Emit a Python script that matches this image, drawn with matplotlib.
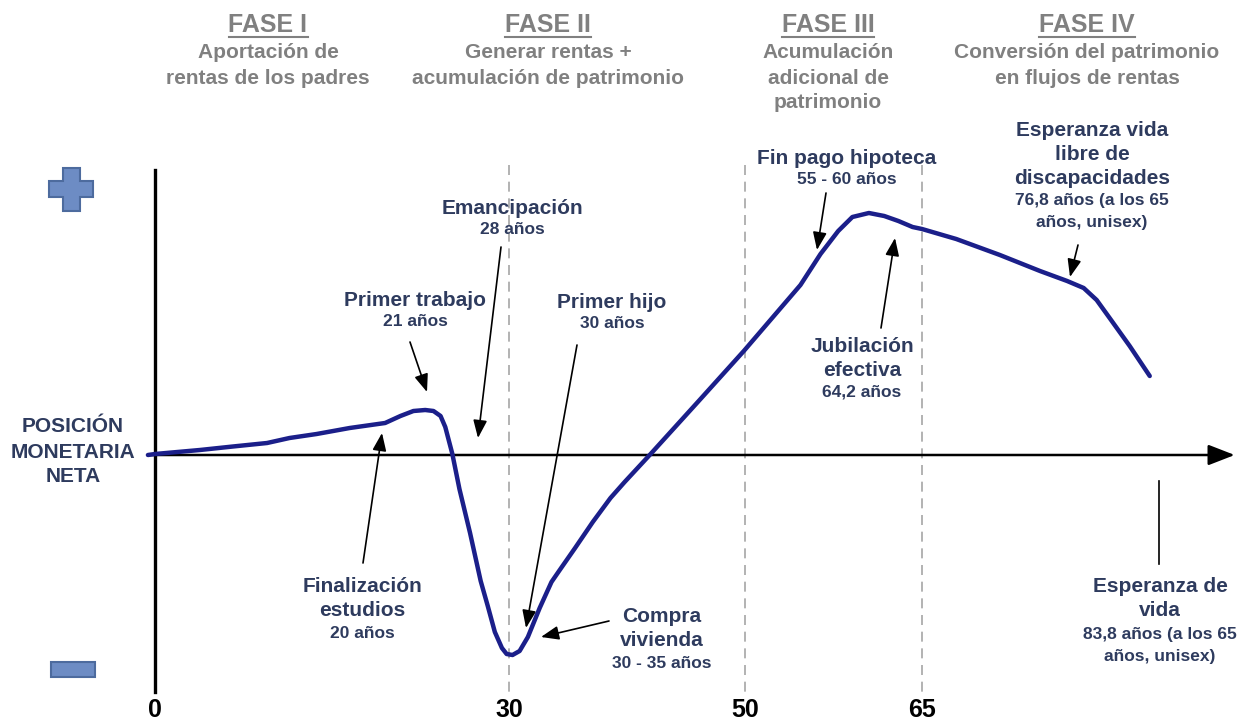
import matplotlib.pyplot as plt
from matplotlib.patches import Rectangle, Polygon

plt.rcParams['font.family'] = ['Liberation Sans', 'DejaVu Sans']
plt.rcParams['font.weight'] = 'bold'

# life-cycle curve: age (years) vs net monetary position (arbitrary units)
ages = [-0.6, 0, 3.8, 6.6, 9.5, 11.4, 13.7, 16.5, 19.5, 20.8, 21.9, 22.9, 23.6, 24.2,
        24.6, 25.2, 25.8, 26.7, 27.6, 28.2, 28.8, 29.4, 29.8, 30.3, 30.9, 31.6, 32.6,
        33.6, 34.3, 35.6, 37.1, 38.6, 39.8, 42.0, 46.0, 49.9, 52.3, 54.7, 56.4, 57.9,
        59.1, 60.5, 61.8, 63.0, 64.2, 65.0, 67.9, 71.6, 75.0, 77.3, 78.7, 79.8, 80.9,
        82.6, 84.3]
position = [0.0, 0.01, 0.05, 0.085, 0.12, 0.17, 0.21, 0.27, 0.32, 0.39, 0.44, 0.45, 0.44, 0.39,
            0.28, 0.01, -0.34, -0.78, -1.26, -1.51, -1.77, -1.93, -1.99, -2.00, -1.96, -1.82, -1.53,
            -1.27, -1.15, -0.93, -0.67, -0.43, -0.27, 0.01, 0.53, 1.04, 1.37, 1.70, 2.01, 2.24,
            2.38, 2.42, 2.39, 2.34, 2.28, 2.26, 2.16, 2.00, 1.84, 1.74, 1.67, 1.55, 1.37,
            1.09, 0.79]

tick_ages = [0, 30, 50, 65]
phase_bounds = [30, 50, 65]

phase_titles = ["FASE I", "FASE II", "FASE III", "FASE IV"]
phase_texts = [["Aportación de", "rentas de los padres"],
               ["Generar rentas +", "acumulación de patrimonio"],
               ["Acumulación", "adicional de", "patrimonio"],
               ["Conversión del patrimonio", "en flujos de rentas"]]

NAVY = '#1b1f8a'
TXT = '#2e3b5e'
GRAY = '#808080'

fig = plt.figure(figsize=(12.42, 7.2), dpi=100)

# data axes (age on x, position on y), laid out to fill the figure
ax = fig.add_axes([0, 0, 1, 1])
ax.set_xlim(-155 / 11.8, (1242 - 155) / 11.8)
ax.set_ylim(-2.65, 4.55)
ax.axis('off')

for a in phase_bounds:
    ax.plot([a, a], [2.9, -2.37], color='#a6a6a6', lw=1.2, ls=(0, (6, 4)), zorder=1)

ax.plot([0, 0], [2.85, -2.37], color='black', lw=2.4, zorder=2)
ax.annotate('', xy=(91.5, 0), xytext=(-0.6, 0),
            arrowprops=dict(arrowstyle='-|>,head_length=0.9,head_width=0.35',
                            mutation_scale=18, lw=1.8, color='black',
                            shrinkA=0, shrinkB=0), zorder=2)

ax.plot(ages, position, color=NAVY, lw=3.2, solid_joinstyle='round',
        solid_capstyle='round', zorder=3)

for a in tick_ages:
    ax.text(a, -2.55, str(a), ha='center', va='center', fontsize=18, color='black')

# overlay in pixel coordinates for labels and decorations
ov = fig.add_axes([0, 0, 1, 1], facecolor='none')
ov.set_xlim(0, 1242)
ov.set_ylim(720, 0)
ov.axis('off')

# plus / minus signs
plus = [(63, 168), (80, 168), (80, 181), (93, 181), (93, 197), (80, 197), (80, 211),
        (63, 211), (63, 197), (49, 197), (49, 181), (63, 181)]
ov.add_patch(Polygon(plus, closed=True, fc='#6d8cc4', ec='#4d6b9e', lw=1.5))
ov.add_patch(Rectangle((51, 662), 44, 15, fc='#6d8cc4', ec='#4d6b9e', lw=1.5))

for i, s in enumerate(["POSICIÓN", "MONETARIA", "NETA"]):
    ov.text(73, 427 + 25 * i, s, ha='center', va='center', fontsize=15, color=TXT)

# phase headers
phase_x = [268, 548, 828, 1087]
fig.canvas.draw()
renderer = fig.canvas.get_renderer()
for x, title, lines in zip(phase_x, phase_titles, phase_texts):
    t = ov.text(x, 25, title, ha='center', va='center', fontsize=18, color=GRAY)
    bb = t.get_window_extent(renderer=renderer)
    ov.plot([bb.x0, bb.x1], [37, 37], color=GRAY, lw=1.5)
    for j, s in enumerate(lines):
        ov.text(x, 53 + 25 * j, s, ha='center', va='center', fontsize=15, color=GRAY)

# event annotations: (x, first line y, lines, tail, head)
events = [
    (415, 300, [("Primer trabajo", 15), ("21 años", 12.5)], (410, 342), (427, 392)),
    (362, 587, [("Finalización", 15), ("estudios", 15), ("20 años", 12.5)], (363, 563), (382, 433)),
    (512, 208, [("Emancipación", 15), ("28 años", 12.5)], (501, 247), (478, 438)),
    (612, 302, [("Primer hijo", 15), ("30 años", 12.5)], (577, 345), (526, 628)),
    (662, 617, [("Compra", 15), ("vivienda", 15), ("30 - 35 años", 12.5)], (609, 621), (541, 637)),
    (847, 158, [("Fin pago hipoteca", 15), ("55 - 60 años", 12.5)], (826, 193), (817, 250)),
    (862, 346, [("Jubilación", 15), ("efectiva", 15), ("64,2 años", 12.5)], (881, 328), (895, 238)),
    (1092, 131, [("Esperanza vida", 15), ("libre de", 15), ("discapacidades", 15),
                 ("76,8 años (a los 65", 12.5), ("años, unisex)", 12.5)], (1078, 245), (1070, 277)),
]
for x, y0, lines, tail, head in events:
    y = y0
    prev = None
    for s, fs in lines:
        if prev is not None:
            y += 24 if fs > 13 else (22 if prev > 13 else 21)
        ov.text(x, y, s, ha='center', va='center', fontsize=fs, color=TXT)
        prev = fs
    ov.annotate('', xy=head, xytext=tail,
                arrowprops=dict(arrowstyle='-|>,head_length=0.9,head_width=0.35',
                                mutation_scale=12, lw=1.2, color='black',
                                shrinkA=0, shrinkB=0))

# life expectancy marker (plain line)
ov.plot([1159, 1159], [481, 564], color='black', lw=1.2)
for j, (s, fs) in enumerate([("Esperanza de", 15), ("vida", 15),
                             ("83,8 años (a los 65", 12.5), ("años, unisex)", 12.5)]):
    ov.text(1160, [586, 610, 634, 656][j], s, ha='center', va='center', fontsize=fs, color=TXT)

fig.savefig("out.png", dpi=100)
